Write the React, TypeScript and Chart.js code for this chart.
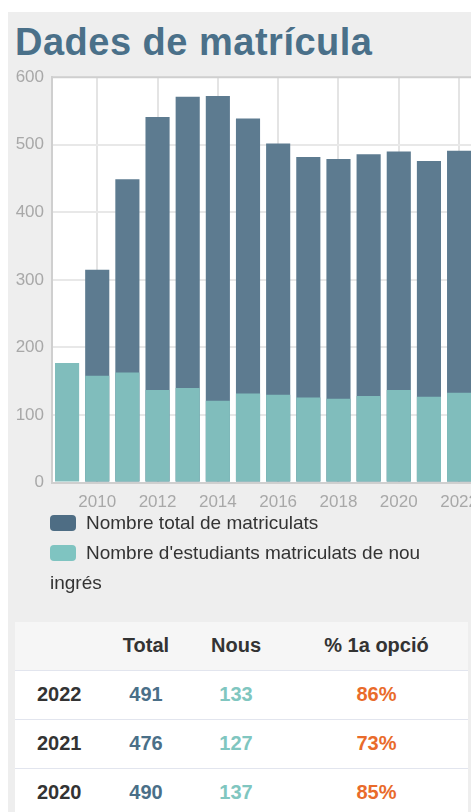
import React, { useEffect, useRef } from "react";
import { Chart, registerables } from "chart.js";

Chart.register(...registerables);

const years = ["2009", "2010", "2011", "2012", "2013", "2014", "2015", "2016", "2017", "2018", "2019", "2020", "2021", "2022"];
const totalEnrolled: (number | null)[] = [null, 315, 449, 541, 571, 572, 539, 502, 482, 479, 486, 490, 476, 491];
const newEnrolled = [177, 158, 163, 137, 140, 121, 132, 130, 126, 124, 128, 137, 127, 133];
const yTicks = [0, 100, 200, 300, 400, 500, 600];

const seriesNames = ["Nombre total de matriculats", "Nombre d'estudiants matriculats de nou ingrés"];

const tableYears = ["2022", "2021", "2020"];
const tableTotal = [491, 476, 490];
const tableNew = [133, 127, 137];
const tableFirstOption = ["86%", "73%", "85%"];

const DARK = "#5d7b90";
const LIGHT = "#80bdbc";
const FONT = "'Liberation Sans', Arial, Helvetica, sans-serif";

const framePlugin = {
  id: "frame",
  beforeDraw(chart: any) {
    const { ctx, chartArea } = chart;
    ctx.save();
    ctx.fillStyle = "#ffffff";
    ctx.fillRect(chartArea.left, chartArea.top, chartArea.right - chartArea.left, chartArea.bottom - chartArea.top);
    ctx.restore();
  },
  beforeDatasetsDraw(chart: any) {
    const { ctx, chartArea } = chart;
    ctx.save();
    ctx.strokeStyle = "#cfcfcf";
    ctx.lineWidth = 2;
    ctx.beginPath();
    ctx.moveTo(chartArea.left, chartArea.top);
    ctx.lineTo(chartArea.right, chartArea.top);
    ctx.lineTo(chartArea.right, chartArea.bottom);
    ctx.stroke();
    ctx.restore();
  },
};

function EnrollmentChart() {
  const ref = useRef<HTMLCanvasElement | null>(null);
  useEffect(() => {
    if (!ref.current) return;
    const chart = new Chart(ref.current, {
      type: "bar",
      data: {
        labels: years,
        datasets: [
          {
            label: seriesNames[0],
            data: totalEnrolled,
            backgroundColor: DARK,
            order: 1,
            categoryPercentage: 1,
            barPercentage: 0.8,
          },
          {
            label: seriesNames[1],
            data: newEnrolled,
            backgroundColor: LIGHT,
            order: 0,
            categoryPercentage: 1,
            barPercentage: 0.8,
          },
        ],
      },
      options: {
        animation: false,
        responsive: false,
        layout: { padding: { top: 0, right: 0, left: 0, bottom: 0 } },
        plugins: { legend: { display: false }, tooltip: { enabled: false } },
        scales: {
          x: {
            stacked: true,
            offset: true,
            grid: { offset: false, color: "#e4e4e4", lineWidth: 2, drawTicks: false },
            border: { color: "#cfcfcf", width: 2 },
            ticks: {
              autoSkip: false,
              maxRotation: 0,
              padding: 10,
              color: "#a8a8a8",
              font: { family: FONT, size: 17 },
              callback: (_v: any, i: number) => (i % 2 === 1 ? years[i] : null),
            },
          },
          y: {
            stacked: false,
            min: yTicks[0],
            max: yTicks[yTicks.length - 1],
            afterBuildTicks: (scale: any) => {
              scale.ticks = yTicks.map((v) => ({ value: v }));
            },
            afterFit: (scale: any) => {
              scale.width = 44;
            },
            grid: { color: "#e8e8e8", lineWidth: 2, drawTicks: false },
            border: { color: "#cfcfcf", width: 2 },
            ticks: {
              padding: 8,
              color: "#a8a8a8",
              font: { family: FONT, size: 17 },
            },
          },
        },
      },
      plugins: [framePlugin],
    });
    return () => chart.destroy();
  }, []);
  return <canvas ref={ref} width={480} height={464} style={{ display: "block" }} />;
}

export default function App() {
  const cell: React.CSSProperties = { fontFamily: FONT, fontWeight: 700, fontSize: 20 };
  return (
    <div style={{ position: "absolute", left: 8, top: 12, width: 463, height: 800, background: "#eeeeee", overflow: "hidden" }}>
      <div
        style={{
          position: "absolute",
          left: 7,
          top: 9,
          fontFamily: FONT,
          fontWeight: 700,
          fontSize: 38,
          color: "#4a7089",
          whiteSpace: "nowrap",
          letterSpacing: 0.5,
        }}
      >
        Dades de matrícula
      </div>
      <div style={{ position: "absolute", left: 0, top: 47 }}>
        <EnrollmentChart />
      </div>
      <div
        style={{
          position: "absolute",
          left: 42,
          top: 496,
          width: 400,
          fontFamily: FONT,
          fontSize: 19,
          lineHeight: "30px",
          color: "#333",
        }}
      >
        <div>
          <span style={{ display: "inline-block", width: 26, height: 16, borderRadius: 4, background: "#4e6d84", marginRight: 10, verticalAlign: -2 }} />
          {seriesNames[0]}
        </div>
        <div>
          <span style={{ display: "inline-block", width: 26, height: 16, borderRadius: 4, background: "#7fc4c1", marginRight: 10, verticalAlign: -2 }} />
          {seriesNames[1]}
        </div>
      </div>
      <table
        style={{
          position: "absolute",
          left: 7,
          top: 610,
          width: 453,
          borderCollapse: "collapse",
          background: "#ffffff",
          tableLayout: "fixed",
        }}
      >
        <colgroup>
          <col style={{ width: 90 }} />
          <col style={{ width: 82 }} />
          <col style={{ width: 98 }} />
          <col style={{ width: 183 }} />
        </colgroup>
        <thead>
          <tr style={{ background: "#f6f6f6", height: 48, borderBottom: "1px solid #e2e5ee" }}>
            <th />
            <th style={{ ...cell, color: "#333", textAlign: "center" }}>Total</th>
            <th style={{ ...cell, color: "#333", textAlign: "center" }}>Nous</th>
            <th style={{ ...cell, color: "#333", textAlign: "center" }}>% 1a opció</th>
          </tr>
        </thead>
        <tbody>
          {tableYears.map((y, i) => (
            <tr key={y} style={{ height: 49, borderBottom: "1px solid #e2e5ee" }}>
              <td style={{ ...cell, color: "#333", paddingLeft: 22 }}>{y}</td>
              <td style={{ ...cell, color: "#4a6f88", textAlign: "center" }}>{tableTotal[i]}</td>
              <td style={{ ...cell, color: "#80c6c0", textAlign: "center" }}>{tableNew[i]}</td>
              <td style={{ ...cell, color: "#e96b2b", textAlign: "center" }}>{tableFirstOption[i]}</td>
            </tr>
          ))}
        </tbody>
      </table>
    </div>
  );
}
